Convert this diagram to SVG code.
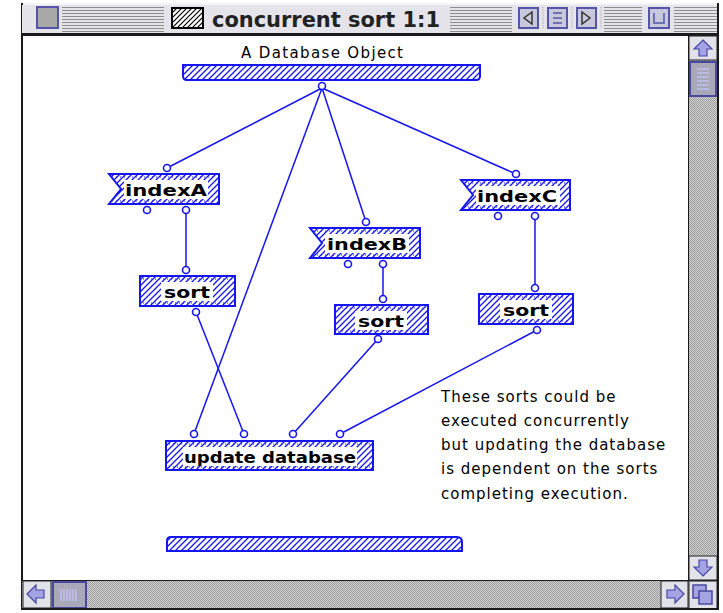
<svg xmlns="http://www.w3.org/2000/svg" width="723" height="613" viewBox="0 0 723 613">
  <defs>
    <pattern id="hatch" patternUnits="userSpaceOnUse" width="6" height="6">
      <path d="M-1,1 l2,-2 M0,6 l6,-6 M5,7 l2,-2" stroke="#1515f0" stroke-width="1.3"/>
    </pattern>
    <pattern id="stripes" patternUnits="userSpaceOnUse" width="4" height="3">
      <rect width="4" height="3" fill="#e4e4ea"/>
      <rect y="1" width="4" height="1" fill="#8c8c8c"/>
    </pattern>
    <pattern id="track" patternUnits="userSpaceOnUse" width="2" height="2">
      <rect width="2" height="2" fill="#d4d4d4"/>
      <rect width="1" height="1" fill="#9a9a9a"/>
      <rect x="1" y="1" width="1" height="1" fill="#9a9a9a"/>
    </pattern>
    <pattern id="iconHatch" patternUnits="userSpaceOnUse" width="5" height="5">
      <rect width="5" height="5" fill="#ffffff"/>
      <path d="M-1,1 l2,-2 M0,5 l5,-5 M4,6 l2,-2" stroke="#000" stroke-width="1.2"/>
    </pattern>
  </defs>
  <style>
    .node { fill: url(#hatch); stroke: #1515f0; stroke-width: 2; }
    .ticks { fill: none; stroke: #1515f0; stroke-width: 1; stroke-dasharray: 1 3; }
    .bg { fill: #ffffff; }
    .label { font-family: "DejaVu Sans", "Liberation Sans", sans-serif; font-weight: bold; font-size: 16px; fill: #000; }
    .term { fill: #ffffff; stroke: #1515f0; stroke-width: 1.6; }
    .wire { fill: none; stroke: #1515f0; stroke-width: 1.5; }
    .plain { font-family: "DejaVu Sans", "Liberation Sans", sans-serif; font-size: 15px; fill: #000; letter-spacing: 1px; }
    .btn { fill: #c8c8dc; stroke: #5454a8; stroke-width: 2; }
    .arrow { fill: #a4a4e4; stroke: #4848a0; stroke-width: 1.2; }
    .sbbox { fill: #e2e2ea; stroke: #222; stroke-width: 1; }
  </style>

  <!-- window frame -->
  <rect x="0" y="0" width="723" height="613" fill="#ffffff"/>
  <rect x="22" y="3" width="696" height="32" fill="url(#stripes)"/>
  <rect x="22" y="3" width="696" height="2" fill="#f4f4f8"/>
  <rect x="22" y="33" width="696" height="3" fill="#1a1a1a"/>
  <rect x="21" y="3" width="2" height="607" fill="#1a1a1a"/>
  <rect x="717" y="3" width="2" height="607" fill="#1a1a1a"/>

  <!-- title bar -->
  <g id="title-bar">
    <rect x="22" y="5" width="10" height="28" fill="#e4e4ea"/>
    <rect x="32" y="5" width="30" height="28" fill="#e4e4ea"/>
    <rect x="37" y="7" width="21" height="21" fill="#a8a8a8" stroke="#5454a8" stroke-width="2"/>
    <rect x="164" y="5" width="286" height="28" fill="#e4e4ea"/>
    <rect x="172" y="8" width="31" height="20" fill="url(#iconHatch)" stroke="#000" stroke-width="2"/>
    <text x="212" y="27" font-family="'DejaVu Sans', 'Liberation Sans', sans-serif" font-weight="bold" font-size="22" textLength="228" lengthAdjust="spacingAndGlyphs" fill="#222">concurrent sort 1:1</text>
    <rect x="512" y="5" width="92" height="28" fill="#e4e4ea"/>
    <rect x="642" y="5" width="32" height="28" fill="#e4e4ea"/>
    <rect x="519" y="8" width="19" height="20" class="btn"/>
    <path d="M532,12 L524,18 L532,24 Z" fill="#c8c8dc" stroke="#333" stroke-width="1.5"/>
    <rect x="548" y="8" width="19" height="20" class="btn"/>
    <path d="M553,13 h9 M553,18 h9 M553,23 h9" stroke="#5454a8" stroke-width="1.5"/>
    <rect x="577" y="8" width="19" height="20" class="btn"/>
    <path d="M582,12 L590,18 L582,24 Z" fill="#c8c8dc" stroke="#333" stroke-width="1.5"/>
    <rect x="649" y="8" width="20" height="20" class="btn"/>
    <path d="M654,13 v10 h10 v-10" fill="none" stroke="#5454a8" stroke-width="1.5"/>
    <path d="M543,7 v22 M572,7 v22 M601,7 v22" stroke="#aaa" stroke-width="1" stroke-dasharray="1 1"/>
  </g>

  <!-- vertical scroll bar -->
  <g id="vscroll">
    <rect x="689" y="36" width="28" height="545" fill="url(#track)"/>
    <rect x="688" y="36" width="1" height="574" fill="#1a1a1a"/>
    <rect x="689" y="36" width="28" height="24" class="sbbox"/>
    <path d="M703,40 L712,49 L707,49 L707,56 L699,56 L699,49 L694,49 Z" class="arrow"/>
    <rect x="690" y="62" width="26" height="34" fill="#a8a8b8" stroke="#4848a0" stroke-width="2"/>
    <path d="M697,69 h12 M697,73 h12 M697,77 h12 M697,81 h12 M697,85 h12 M697,89 h12" stroke="#c0c0f0" stroke-width="1.5"/>
    <rect x="689" y="556" width="28" height="24" class="sbbox"/>
    <path d="M703,576 L712,567 L707,567 L707,560 L699,560 L699,567 L694,567 Z" class="arrow"/>
  </g>

  <!-- horizontal scroll bar -->
  <g id="hscroll">
    <rect x="22" y="581" width="667" height="28" fill="url(#track)"/>
    <rect x="22" y="580" width="696" height="1" fill="#1a1a1a"/>
    <rect x="23" y="581" width="28" height="27" class="sbbox"/>
    <path d="M27,594 L36,585 L36,590 L44,590 L44,598 L36,598 L36,603 Z" class="arrow"/>
    <rect x="53" y="582" width="33" height="26" fill="#a8a8b8" stroke="#4848a0" stroke-width="2"/>
    <path d="M61,589 v12 M64,589 v12 M67,589 v12 M70,589 v12 M73,589 v12 M76,589 v12" stroke="#c0c0f0" stroke-width="1.5"/>
    <rect x="661" y="581" width="27" height="27" class="sbbox"/>
    <path d="M684,594 L675,585 L675,590 L667,590 L667,598 L675,598 L675,603 Z" class="arrow"/>
    <rect x="689" y="581" width="28" height="28" class="sbbox"/>
    <rect x="693" y="585" width="13" height="13" fill="#a4a4e4" stroke="#4848a0" stroke-width="1.5"/>
    <rect x="699" y="591" width="13" height="13" fill="#a4a4e4" stroke="#4848a0" stroke-width="1.5"/>
    <rect x="22" y="608" width="697" height="2" fill="#1a1a1a"/>
  </g>

  <!-- connectors -->
  <g id="connectors" class="wire">
    <line x1="322" y1="88" x2="167" y2="168"/>
    <line x1="322" y1="88" x2="194" y2="434"/>
    <line x1="322" y1="88" x2="366" y2="222"/>
    <line x1="322" y1="88" x2="516" y2="174"/>
    <line x1="186" y1="210" x2="186" y2="270"/>
    <line x1="383" y1="264" x2="383" y2="299"/>
    <line x1="535" y1="216" x2="535" y2="288"/>
    <line x1="196" y1="312" x2="244" y2="434"/>
    <line x1="378" y1="339" x2="293" y2="434"/>
    <line x1="537" y1="330" x2="340" y2="434"/>
  </g>

  <!-- input bar -->
  <g id="input-bar">
    <text x="241" y="58" class="plain" textLength="163" lengthAdjust="spacing">A Database Object</text>
    <path d="M183,65 H480 V76 Q480,80 476,80 H187 Q183,80 183,76 Z" class="node"/>
    <circle cx="322" cy="86" r="3.5" class="term"/>
  </g>

  <!-- indexA -->
  <g id="indexA">
    <polygon points="109,174 219,174 219,204 109,204 121,189" class="node"/>
    <path d="M112,177 H216 M112,201 H216" class="ticks"/>
    <rect x="124" y="180" width="84" height="19" class="bg"/>
    <text x="166" y="196" class="label" text-anchor="middle" textLength="82" lengthAdjust="spacingAndGlyphs">indexA</text>
    <circle cx="167" cy="168" r="3.5" class="term"/>
    <circle cx="147" cy="210" r="3.5" class="term"/>
    <circle cx="186" cy="210" r="3.5" class="term"/>
  </g>

  <!-- sort after indexA -->
  <g id="sortA">
    <rect x="140" y="276" width="95" height="30" class="node"/>
    <path d="M143,279 H232 M143,303 H232" class="ticks"/>
    <rect x="161" y="282" width="52" height="19" class="bg"/>
    <text x="187" y="298" class="label" text-anchor="middle" textLength="46" lengthAdjust="spacingAndGlyphs">sort</text>
    <circle cx="186" cy="270" r="3.5" class="term"/>
    <circle cx="196" cy="312" r="3.5" class="term"/>
  </g>

  <!-- indexB -->
  <g id="indexB">
    <polygon points="310,228 420,228 420,258 310,258 322,243" class="node"/>
    <path d="M313,231 H417 M313,255 H417" class="ticks"/>
    <rect x="325" y="234" width="84" height="19" class="bg"/>
    <text x="367" y="250" class="label" text-anchor="middle" textLength="80" lengthAdjust="spacingAndGlyphs">indexB</text>
    <circle cx="366" cy="222" r="3.5" class="term"/>
    <circle cx="348" cy="264" r="3.5" class="term"/>
    <circle cx="383" cy="264" r="3.5" class="term"/>
  </g>

  <!-- sort after indexB -->
  <g id="sortB">
    <rect x="335" y="305" width="93" height="29" class="node"/>
    <path d="M338,308 H425 M338,331 H425" class="ticks"/>
    <rect x="355" y="311" width="52" height="19" class="bg"/>
    <text x="381" y="327" class="label" text-anchor="middle" textLength="46" lengthAdjust="spacingAndGlyphs">sort</text>
    <circle cx="383" cy="299" r="3.5" class="term"/>
    <circle cx="378" cy="339" r="3.5" class="term"/>
  </g>

  <!-- indexC -->
  <g id="indexC">
    <polygon points="461,180 570,180 570,210 461,210 473,195" class="node"/>
    <path d="M464,183 H567 M464,207 H567" class="ticks"/>
    <rect x="476" y="186" width="84" height="19" class="bg"/>
    <text x="517" y="202" class="label" text-anchor="middle" textLength="80" lengthAdjust="spacingAndGlyphs">indexC</text>
    <circle cx="516" cy="174" r="3.5" class="term"/>
    <circle cx="498" cy="216" r="3.5" class="term"/>
    <circle cx="535" cy="216" r="3.5" class="term"/>
  </g>

  <!-- sort after indexC -->
  <g id="sortC">
    <rect x="479" y="294" width="94" height="30" class="node"/>
    <path d="M482,297 H570 M482,321 H570" class="ticks"/>
    <rect x="500" y="300" width="52" height="19" class="bg"/>
    <text x="526" y="316" class="label" text-anchor="middle" textLength="46" lengthAdjust="spacingAndGlyphs">sort</text>
    <circle cx="535" cy="288" r="3.5" class="term"/>
    <circle cx="537" cy="330" r="3.5" class="term"/>
  </g>

  <!-- update database -->
  <g id="update-database">
    <rect x="166" y="441" width="207" height="29" class="node"/>
    <path d="M169,444 H370 M169,467 H370" class="ticks"/>
    <rect x="183" y="447" width="174" height="19" class="bg"/>
    <text x="270" y="463" class="label" text-anchor="middle" textLength="172" lengthAdjust="spacingAndGlyphs">update database</text>
    <circle cx="194" cy="434" r="3.5" class="term"/>
    <circle cx="244" cy="434" r="3.5" class="term"/>
    <circle cx="293" cy="434" r="3.5" class="term"/>
    <circle cx="340" cy="434" r="3.5" class="term"/>
  </g>

  <!-- output bar -->
  <g id="output-bar">
    <path d="M171,537 H457 Q462,537 462,542 V551 H167 V541 Q167,537 171,537 Z" class="node"/>
  </g>

  <!-- comment -->
  <g id="comment" class="plain">
    <text x="441" y="402">These sorts could be</text>
    <text x="441" y="426">executed concurrently</text>
    <text x="441" y="450">but updating the database</text>
    <text x="441" y="474">is dependent on the sorts</text>
    <text x="441" y="499">completing execution.</text>
  </g>
</svg>
